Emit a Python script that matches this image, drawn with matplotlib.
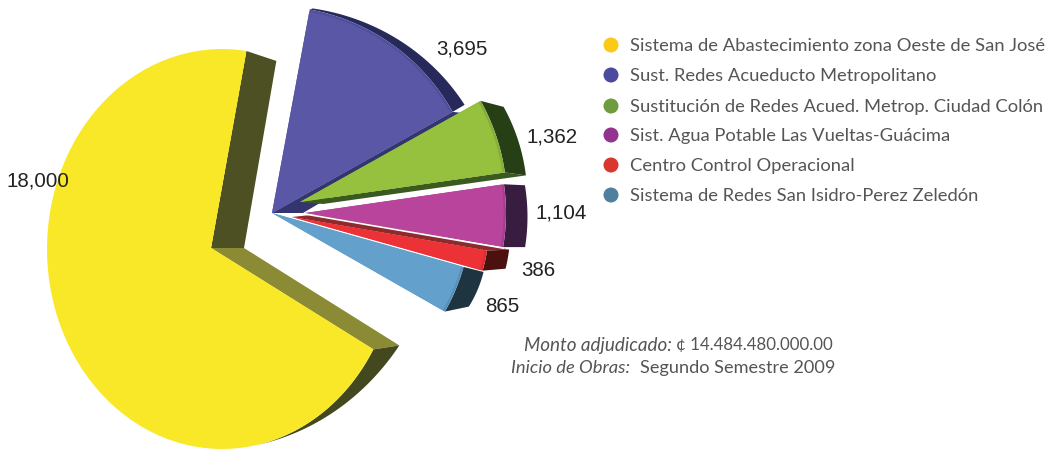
import numpy as np
import matplotlib
matplotlib.use('Agg')
import matplotlib.pyplot as plt

# Data
proyectos = ['Sistema de Abastecimiento zona Oeste de San José',
             'Sust. Redes Acueducto Metropolitano',
             'Sustitución de Redes Acued. Metrop. Ciudad Colón',
             'Sist. Agua Potable Las Vueltas-Guácima',
             'Centro Control Operacional',
             'Sistema de Redes San Isidro-Perez Zeledón']
montos = [18000, 3695, 1362, 1104, 386, 865]
etiquetas = ['18,000', '3,695', '1,362', '1,104', '386', '865']
colores_leyenda = ['#fdc918', '#4b4a9e', '#6f9c3d', '#93338f', '#d9362d', '#50809e']

# Faces and walls
cara = ['#f9e827', '#5a58a6', '#95c13f', '#b8449b', '#ec3237', '#64a0cc']
borde = ['#f9e827', '#4f4f9c', '#86ad38', '#a53e91', '#d62e33', '#5790ba']
pared = ['#44481e', '#27295a', '#263f14', '#381d40', '#4c100f', '#1e3441']

# Slices are exploded by hand: apex, radii, arc centre, angle stretch, wall depth
apice = [(211, 248), (272, 213), (300, 202), (305, 213), (292, 217), (272, 213)]
centro = [(222, 249), (272, 213), (300, 202), (305, 213), (292, 217), (272, 213)]
radio = [(175, 200), (207, 207), (207, 207), (201, 201), (198, 198), (199, 199)]
estira = [0.972, 0.96, 1.09, 1.15, 1.09, 1.14]
prof_ini = [(26, -4), (3, -1), (23, 6), (21, 1), (22, -1), (20, 5)]
prof_fin = [(0, 0), (12, -7), (21, 3), (22, 0), (23, -2), (24, -5)]

total = sum(montos)
barrido = [m / total * 360 * e for m, e in zip(montos, estira)]


def arco(i, a1, a2, f=1.0):
    t = np.radians(np.linspace(a1, a2, 80))
    x = centro[i][0] + f * radio[i][0] * np.cos(t)
    y = centro[i][1] - f * radio[i][1] * np.sin(t)
    return x, y


def muro(i, a1, a2):
    # outer wall, the depth changes along the rim
    x, y = arco(i, a1, a2)
    s = np.linspace(0, 1, len(x))
    dx = prof_ini[i][0] + s * (prof_fin[i][0] - prof_ini[i][0])
    dy = prof_ini[i][1] + s * (prof_fin[i][1] - prof_ini[i][1])
    ax.fill(np.r_[x, (x + dx)[::-1]], np.r_[y, (y + dy)[::-1]], color=pared[i], lw=0)


def tapa(i, a1, a2):
    # the face with a soft edge
    x, y = arco(i, a1, a2)
    ax.fill(np.r_[apice[i][0], x], np.r_[apice[i][1], y], color=borde[i], lw=0)
    x2, y2 = arco(i, a1, a2, 0.988)
    ax.fill(np.r_[apice[i][0], x2], np.r_[apice[i][1], y2], color=cara[i], lw=0)


def lado(i, ang, d_ap, d_ext, color):
    # flat side wall between the apex and the rim
    x0, y0 = apice[i]
    x, y = arco(i, ang, ang + 1)
    px, py = x[0], y[0]
    ax.fill([x0, px, px + d_ext[0], x0 + d_ap[0]],
            [y0, py, py + d_ext[1], y0 + d_ap[1]], color=color, lw=0)


fig = plt.figure(figsize=(10.5, 4.49), dpi=100)
ax = fig.add_axes([0, 0, 1, 1])
ax.set_xlim(0, 1050)
ax.set_ylim(449, 0)
ax.axis('off')

# Yellow slice
ini = 82
fin = ini + barrido[0]
lado(0, ini, (33, 0), (30, 10), '#4d5022')
lado(0, fin, (33, 0), prof_ini[0], '#8b8b35')
muro(0, fin, fin - 50)
tapa(0, ini, fin)

# Right hand slices, going clockwise from the top
angulos = [79.5]
for b in barrido[1:]:
    angulos.append(angulos[-1] - b)

lado(1, angulos[1], (31, 0), (18, 2), '#33356f')
lado(2, angulos[2], (23, 2), prof_fin[2], '#3b5a20')
for i in [1, 2, 5]:
    muro(i, angulos[i - 1], angulos[i])
    tapa(i, angulos[i - 1], angulos[i])
lado(4, angulos[3], (28, -3), (22, -1), '#8c2a2c')
muro(4, angulos[3], angulos[4])
tapa(4, angulos[3], angulos[4])
muro(3, angulos[2], angulos[3])
tapa(3, angulos[2], angulos[3])
xm, ym = arco(3, angulos[3], angulos[3] + 1)
ax.plot([305, xm[0]], [214, ym[0] + 1], color='white', lw=1.2)

# Value labels
pos_x = [38, 462, 552, 561, 538, 502]
pos_y = [181, 49, 137, 213, 271, 307]
for i in range(len(montos)):
    ax.text(pos_x[i], pos_y[i], etiquetas[i], ha='center', va='center',
            family='Liberation Sans', fontsize=14.8, color='#222222')

# Legend
ley_y = [45, 75, 106, 135, 165, 195]
ax.scatter([611] * 6, ley_y, s=117, c=colores_leyenda, lw=0)
for i in range(len(proyectos)):
    ax.text(630, ley_y[i] + 1, proyectos[i], ha='left', va='center', family='Lato',
            fontsize=13.2, color='#555555')

# Notes
ax.text(672, 345, 'Monto adjudicado:', ha='right', va='center', family='Lato',
        style='italic', fontsize=13.6, color='#555555')
ax.text(676, 345, '¢ 14.484.480.000.00', ha='left', va='center', family='Lato',
        fontsize=12.2, color='#555555')
ax.text(630, 368, 'Inicio de Obras:', ha='right', va='center', family='Lato',
        style='italic', fontsize=13.2, color='#555555')
ax.text(640, 368, 'Segundo Semestre 2009', ha='left', va='center', family='Lato',
        fontsize=13.1, color='#555555')

fig.savefig('out.png', dpi=100)
